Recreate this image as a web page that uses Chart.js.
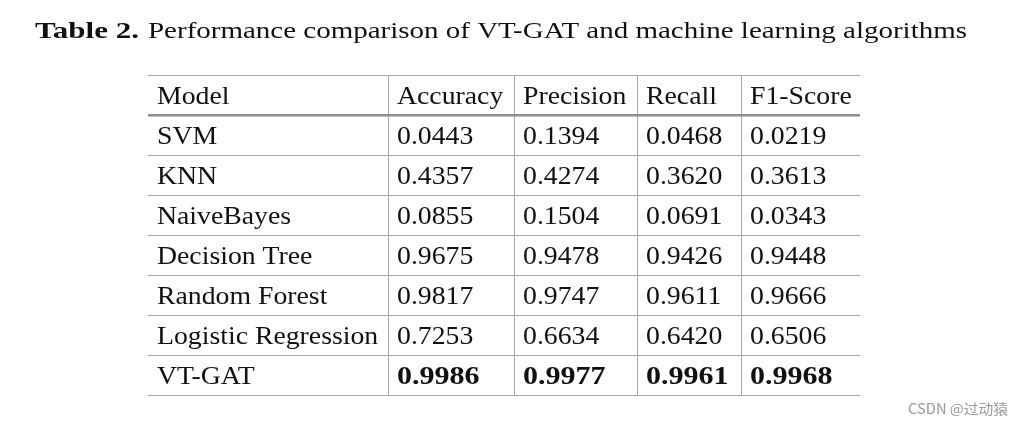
<!doctype html>
<html>
<head>
  <meta charset="utf-8" />
  <title>Table 2</title>
  <script src="https://cdn.jsdelivr.net/npm/chart.js"></script>
  <style>
    html, body { margin: 0; padding: 0; background: #fff; }
    #wrap { width: 1023px; height: 425px; position: relative; }
  </style>
</head>
<body>
<div id="wrap"><canvas id="tableChart"></canvas></div>

<script>
  // table data
  var columns = ['Model', 'Accuracy', 'Precision', 'Recall', 'F1-Score'];
  var models = ['SVM', 'KNN', 'NaiveBayes', 'Decision Tree', 'Random Forest', 'Logistic Regression', 'VT-GAT'];
  var accuracy  = [0.0443, 0.4357, 0.0855, 0.9675, 0.9817, 0.7253, 0.9986];
  var precision = [0.1394, 0.4274, 0.1504, 0.9478, 0.9747, 0.6634, 0.9977];
  var recall    = [0.0468, 0.3620, 0.0691, 0.9426, 0.9611, 0.6420, 0.9961];
  var f1score   = [0.0219, 0.3613, 0.0343, 0.9448, 0.9666, 0.6506, 0.9968];
  var bestModel = 'VT-GAT';
  var titleBold = 'Table 2.';
  var titleText = 'Performance comparison of VT-GAT and machine learning algorithms';
  var watermark = 'CSDN @过动猿';

  // layout (column edges in table units, left = 0)
  var colEdges = [0, 240, 366, 489, 593, 712];
  var serif = '"Liberation Serif", "DejaVu Serif", serif';
  var cellSize = 25;
  var stretch = 1.11;     // Computer Modern is wider than Times
  var boldStretch = 1.2;  // CM bold even more so
  var lineColor = '#a6a6a6';

  var rowLabels = ['Model'].concat(models);
  var valueCols = [accuracy, precision, recall, f1score];

  function drawStretched(ctx, text, x, y, sx) {
    ctx.save();
    ctx.translate(x, y);
    ctx.scale(sx, 1);
    ctx.fillText(text, 0, 0);
    ctx.restore();
  }

  function fitText(ctx, text, x, y, w) { // stretch text so it spans w px
    var m = ctx.measureText(text).width;
    drawStretched(ctx, text, x, y, w / m);
  }

  var tableText = {
    id: 'tableText',
    afterDraw: function (chart) {
      var ctx = chart.ctx;
      var xs = chart.scales.x, ys = chart.scales.y;
      ctx.save();
      ctx.fillStyle = '#111';
      ctx.textBaseline = 'alphabetic';
      ctx.textAlign = 'left';

      // title
      ctx.font = 'bold 24px ' + serif;
      fitText(ctx, titleBold, 35, 38, 104);
      ctx.font = '24px ' + serif;
      fitText(ctx, titleText, 148, 38, 819);

      // cells
      rowLabels.forEach(function (label, r) {
        var y = ys.getPixelForValue(r) + 8.5;
        for (var c = 0; c < columns.length; c++) {
          var x = xs.getPixelForValue(colEdges[c]) + 9;
          var txt, bold = false;
          if (r === 0) {
            txt = columns[c];
          } else if (c === 0) {
            txt = label;
          } else {
            txt = valueCols[c - 1][r - 1].toFixed(4);
            bold = (label === bestModel);
          }
          ctx.font = (bold ? 'bold ' : '') + cellSize + 'px ' + serif;
          drawStretched(ctx, txt, x, y, bold ? boldStretch : stretch);
        }
      });

      // watermark
      ctx.fillStyle = '#9a9a9a';
      ctx.font = '14px "Noto Sans CJK SC", "Noto Sans", sans-serif';
      ctx.textBaseline = 'middle';
      fitText(ctx, watermark, 908, 409, 100);
      ctx.restore();
    }
  };

  var tableChart = new Chart(document.getElementById('tableChart'), {
    type: 'scatter',
    data: { datasets: [] },
    options: {
      responsive: true,
      maintainAspectRatio: false,
      animation: false,
      layout: { padding: { left: 148, right: 163, top: 75, bottom: 30 } },
      plugins: { legend: { display: false }, tooltip: { enabled: false } },
      scales: {
        x: {
          type: 'linear',
          min: colEdges[0],
          max: colEdges[colEdges.length - 1],
          afterBuildTicks: function (scale) {
            scale.ticks = colEdges.map(function (v) { return { value: v }; });
          },
          ticks: { display: false },
          border: { display: false },
          grid: {
            drawTicks: false,
            lineWidth: 1,
            color: function (ctx) {
              var v = ctx.tick ? ctx.tick.value : 0;
              return (v === colEdges[0] || v === colEdges[colEdges.length - 1]) ? 'rgba(0,0,0,0)' : lineColor;
            }
          }
        },
        y: {
          type: 'category',
          labels: rowLabels,
          offset: true,
          ticks: { display: false },
          border: { display: false },
          grid: {
            offset: true,
            drawTicks: false,
            color: function (ctx) { return ctx.index === 1 ? '#8e8e8e' : lineColor; },
            lineWidth: function (ctx) { return ctx.index === 1 ? 2.5 : 1; }
          }
        }
      }
    },
    plugins: [tableText]
  });
</script>
</body>
</html>
